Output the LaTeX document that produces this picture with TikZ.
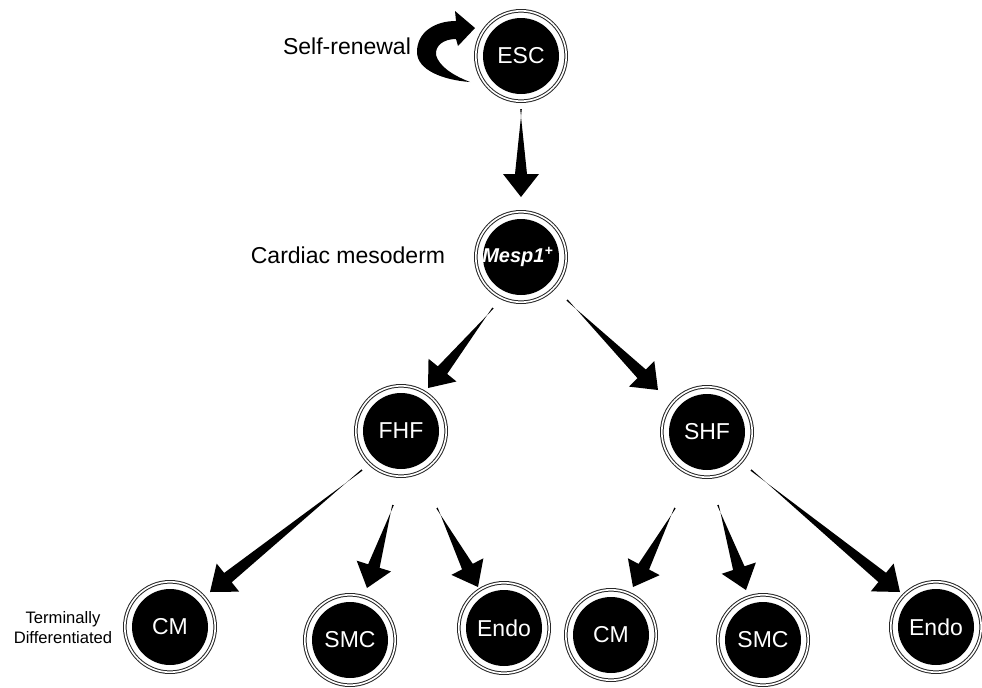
\documentclass[tikz,border=0pt]{standalone}
\usepackage{fontspec}
\setmainfont{Liberation Sans}
\usetikzlibrary{calc}
\newcommand\cellfont{\fontsize{11.5}{13}\selectfont}
\newcommand\labfont{\fontsize{11.5}{13}\selectfont}
\newcommand\tarrow[2]{%
  \coordinate (hb) at ($(#2)!11.5pt!(#1)$);
  \fill[black] ($(#1)!0.4pt!90:(#2)$) -- ($(hb)!3pt!-90:(#2)$) -- ($(hb)!9pt!-90:(#2)$) -- (#2)
     -- ($(hb)!9pt!90:(#2)$) -- ($(hb)!3pt!90:(#2)$) -- ($(#1)!0.4pt!-90:(#2)$) -- cycle;}
\tikzset{
  cell/.style={circle, fill=black, minimum size=38pt, inner sep=0pt, text=white, font=\cellfont},
  ring/.style={draw=black!85, double=white, double distance=0.8pt, line width=0.5pt},
  lab/.style={font=\labfont, text=black, inner sep=0pt}
}
\begin{document}
\begin{tikzpicture}[x=0.5pt,y=-0.5pt]
\useasboundingbox (0,0) rectangle (982,687);
% nodes
\node[cell] (esc) at (521,56) {ESC};
\node[cell, font=\fontsize{10}{12}\selectfont\bfseries\itshape] (mesp) at (521,257) {\hspace*{-3pt}Mesp1\textsuperscript{+}};
\node[cell] (fhf) at (401,431) {FHF};
\node[cell] (shf) at (707,432) {SHF};
\node[cell] (cm1) at (170,627) {CM};
\node[cell] (smc1) at (350,640) {SMC};
\node[cell] (endo1) at (504,628) {Endo};
\node[cell] (cm2) at (611,635) {CM};
\node[cell] (smc2) at (763,640) {SMC};
\node[cell] (endo2) at (936,627) {Endo};
\foreach \n in {esc,mesp,fhf,shf,cm1,smc1,endo1,cm2,smc2,endo2}
  \draw[ring] (\n) circle[radius=22.6pt];
% labels
\node[lab] (selfren) at (347,46) {Self-renewal};
\node[lab] (cardmes) at (348,255) {Cardiac mesoderm};
\node[lab, font=\fontsize{8.3}{10}\selectfont, align=center] (termdiff) at (63,628) {Terminally\\Differentiated};
% self-renewal arrow
\fill[black] (455,11) -- (475,28) -- (458,46) -- (456,39)
  .. controls (443,39) and (435,46) .. (436,55)
  .. controls (439,66) and (452,75) .. (470,82)
  .. controls (443,80) and (417,70) .. (417,52)
  .. controls (417,32) and (435,21) .. (456,21) -- cycle;
% connector end points
\coordinate (a1s) at ($(esc)+(0,53)$);   \coordinate (a1e) at ($(mesp)+(0,-60)$);
\coordinate (a2s) at ($(mesp)+(-28,51)$); \coordinate (a2e) at ($(fhf)+(27,-43)$);
\coordinate (a3s) at ($(mesp)+(46,43)$);  \coordinate (a3e) at ($(shf)+(-49,-42)$);
\coordinate (a4s) at ($(fhf)+(-39,39)$);  \coordinate (a4e) at ($(cm1)+(40,-35)$);
\coordinate (a5s) at ($(fhf)+(-8,74)$);   \coordinate (a5e) at ($(smc1)+(17,-52)$);
\coordinate (a6s) at ($(fhf)+(36,77)$);   \coordinate (a6e) at ($(endo1)+(-26,-41)$);
\coordinate (a7s) at ($(shf)+(-32,76)$);  \coordinate (a7e) at ($(cm2)+(22,-48)$);
\coordinate (a8s) at ($(shf)+(11,73)$);   \coordinate (a8e) at ($(smc2)+(-17,-50)$);
\coordinate (a9s) at ($(shf)+(44,38)$);   \coordinate (a9e) at ($(endo2)+(-36,-35)$);
\tarrow{a1s}{a1e}
\tarrow{a2s}{a2e}
\tarrow{a3s}{a3e}
\tarrow{a4s}{a4e}
\tarrow{a5s}{a5e}
\tarrow{a6s}{a6e}
\tarrow{a7s}{a7e}
\tarrow{a8s}{a8e}
\tarrow{a9s}{a9e}
\end{tikzpicture}
\end{document}
